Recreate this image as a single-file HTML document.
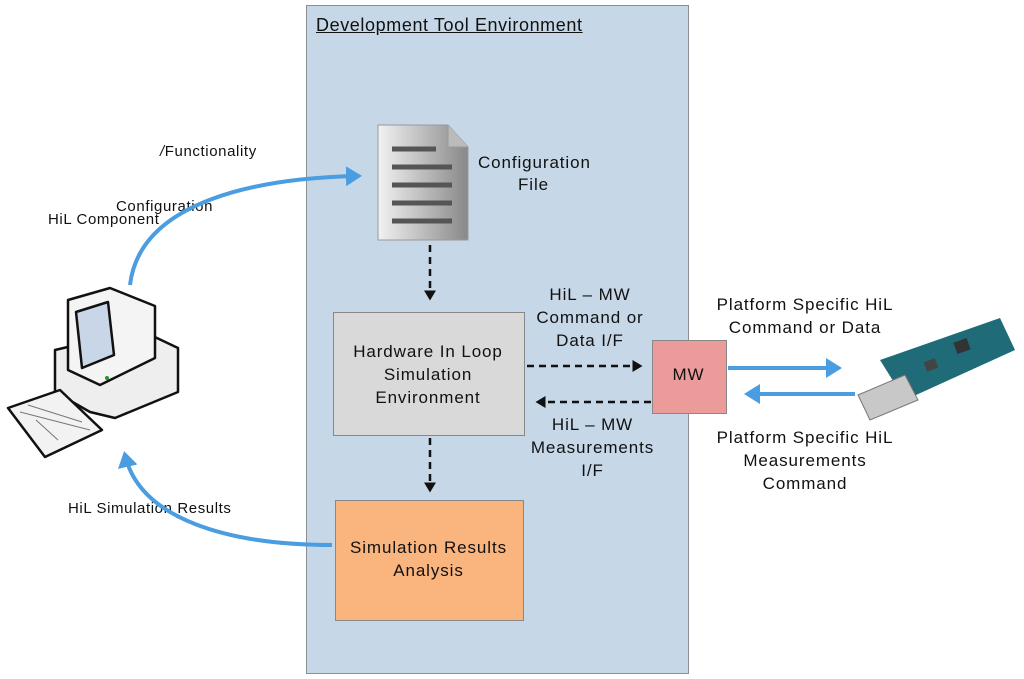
<!DOCTYPE html>
<html><head><style>
body{margin:0;width:1024px;height:679px;background:#fff;position:relative;overflow:hidden;font-family:"Liberation Sans",sans-serif;color:#111}
.t{position:absolute;font-size:17px;line-height:22px;white-space:nowrap;letter-spacing:0.9px}
.s{font-size:15px;letter-spacing:0.6px}
.c{text-align:center}
</style></head><body>
<div style="position:absolute;left:306px;top:5px;width:381px;height:667px;background:#c6d7e7;border:1px solid #8a8f95"></div>
<div class="t" style="left:316px;top:14px;font-size:18px;letter-spacing:0.6px;text-decoration:underline">Development Tool Environment</div>
<div style="position:absolute;left:333px;top:312px;width:190px;height:122px;background:#d9d9d9;border:1px solid #888"></div>
<div class="t c" style="left:323px;top:340px;width:210px;line-height:23px">Hardware In Loop<br>Simulation<br>Environment</div>
<div style="position:absolute;left:335px;top:500px;width:187px;height:119px;background:#fab57f;border:1px solid #888"></div>
<div class="t c" style="left:320px;top:536px;width:217px;line-height:23px">Simulation Results<br>Analysis</div>
<div style="position:absolute;left:652px;top:340px;width:73px;height:72px;background:#eb9c9a;border:1px solid #888"></div>
<div class="t c" style="left:652px;top:364px;width:73px">MW</div>
<div class="t" style="left:478px;top:151px;line-height:23px">Configuration</div>
<div class="t" style="left:518px;top:174px">File</div>
<div class="t c" style="left:520px;top:283px;width:140px;line-height:23px">HiL – MW<br>Command or<br>Data I/F</div>
<div class="t c" style="left:515px;top:413px;width:155px;line-height:23px">HiL – MW<br>Measurements<br>I/F</div>
<div class="t c" style="left:685px;top:293px;width:240px;line-height:23px">Platform Specific HiL<br>Command or Data</div>
<div class="t c" style="left:685px;top:426px;width:240px;line-height:23px">Platform Specific HiL<br>Measurements<br>Command</div>
<div class="t s" style="left:160px;top:141px"><i>/</i>Functionality</div>
<div class="t s" style="left:116px;top:196px">Configuration</div>
<div class="t s" style="left:48px;top:209px">HiL Component</div>
<div class="t s" style="left:68px;top:498px">HiL Simulation Results</div>
<svg width="1024" height="679" style="position:absolute;left:0;top:0">
<defs>
<marker id="b" markerWidth="6" markerHeight="6" refX="3" refY="3" orient="auto" markerUnits="strokeWidth"><path d="M0,0.5L4,3L0,5.5z" fill="#4a9de0"/></marker>
<marker id="k" markerWidth="6" markerHeight="6" refX="3" refY="3" orient="auto" markerUnits="strokeWidth"><path d="M0,0.6L4,3L0,5.4z" fill="#111"/></marker>
<linearGradient id="g" x1="0" x2="1"><stop offset="0" stop-color="#f2f2f2"/><stop offset="1" stop-color="#888"/></linearGradient>
</defs>
<path d="M378,125H448L468,147V240H378Z" fill="url(#g)" stroke="#999"/>
<path d="M448,125V147H468" fill="#bbb" stroke="#999"/>
<g stroke="#555" stroke-width="5"><line x1="392" y1="149" x2="436" y2="149"/><line x1="392" y1="167" x2="452" y2="167"/><line x1="392" y1="185" x2="452" y2="185"/><line x1="392" y1="203" x2="452" y2="203"/><line x1="392" y1="221" x2="452" y2="221"/></g>
<g stroke="#111" stroke-width="2.5" stroke-dasharray="7,5" fill="none">
<line x1="430" y1="245" x2="430" y2="298" marker-end="url(#k)"/>
<line x1="430" y1="438" x2="430" y2="490" marker-end="url(#k)"/>
<line x1="527" y1="366" x2="640" y2="366" marker-end="url(#k)"/>
<line x1="651" y1="402" x2="538" y2="402" marker-end="url(#k)"/>
</g>
<g stroke="#4a9de0" stroke-width="4" fill="none">
<line x1="728" y1="368" x2="838" y2="368" marker-end="url(#b)"/>
<line x1="855" y1="394" x2="748" y2="394" marker-end="url(#b)"/>
<path d="M130,285C140,200 260,178 358,176" marker-end="url(#b)"/>
<path d="M332,545C230,545 140,520 125,455" marker-end="url(#b)"/>
</g>
<g stroke="#111" stroke-width="2.5" stroke-linejoin="round">
<path d="M55,350L140,330L178,348V392L115,418L90,412L55,392Z" fill="#eee"/>
<path d="M68,300L110,288L155,306V358L100,385L68,370Z" fill="#f4f4f4"/>
<path d="M76,312L108,302L114,355L82,368Z" fill="#c9d6e8"/>
<path d="M8,408L60,390L102,430L45,457Z" fill="#f2f2f2"/>
</g>
<g stroke="#777" stroke-width="1"><line x1="20" y1="412" x2="90" y2="430"/><line x1="28" y1="405" x2="82" y2="422"/><line x1="36" y1="420" x2="58" y2="440"/></g>
<circle cx="107" cy="378" r="2" fill="#1a9a2a"/>
<path d="M880,360L1000,318L1015,350L905,400Z" fill="#1f6b78"/>
<path d="M858,395L905,375L918,400L870,420Z" fill="#c8c8c8" stroke="#777"/>
<rect x="955" y="340" width="14" height="12" fill="#333" transform="rotate(-20 962 346)"/>
<rect x="925" y="360" width="12" height="10" fill="#444" transform="rotate(-20 931 365)"/>
</svg>
</body></html>
